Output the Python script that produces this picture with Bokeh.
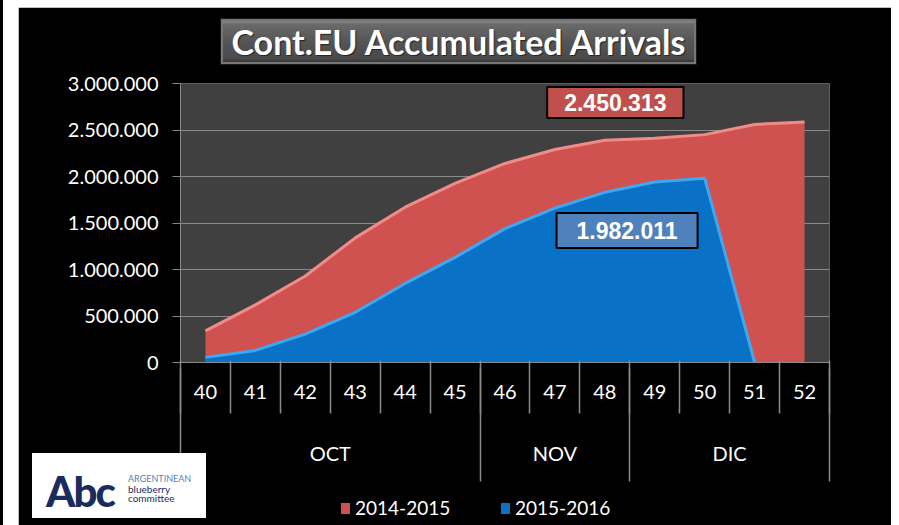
from bokeh.plotting import figure
from bokeh.models import (Range1d, FixedTicker, Label, ColumnDataSource, Spacer, LinearAxis, Div)
from bokeh.layouts import row, column
from bokeh.embed import file_html
from bokeh.resources import INLINE

# ---------------- data ----------------
weeks = ["40", "41", "42", "43", "44", "45", "46", "47", "48", "49", "50", "51", "52"]
months = ["OCT", "OCT", "OCT", "OCT", "OCT", "OCT", "NOV", "NOV", "NOV", "DIC", "DIC", "DIC", "DIC"]
arrivals_2014_2015 = [340000, 620000, 930000, 1340000, 1670000, 1925000, 2140000,
                      2290000, 2390000, 2410000, 2450313, 2560000, 2585000]
arrivals_2015_2016 = [55000, 130000, 305000, 540000, 850000, 1130000, 1440000,
                      1660000, 1830000, 1940000, 1982011, 0, float("nan")]
series_names = ["2014-2015", "2015-2016"]
y_ticks = [0, 500000, 1000000, 1500000, 2000000, 2500000, 3000000]
y_tick_labels = ["0", "500.000", "1.000.000", "1.500.000", "2.000.000", "2.500.000", "3.000.000"]
title_text = "Cont.EU Accumulated Arrivals"
callout_2014 = "2.450.313"
callout_2015 = "1.982.011"

# ---------------- styling ----------------
RED = "#D05250"
BLUE = "#0A72C6"
GRID = "#8a8a8a"
FONT = "Lato"
Y_MAX = 3000000
LABEL_H = 19          # height Bokeh gives a 20px label line
S1 = 22
E1 = S1 + LABEL_H     # extent of the week-label axis
WEEK_OUT = 53 - E1
S2 = 27
E2 = WEEK_OUT + S2 + LABEL_H
MONTH_OUT = 113 - E1 - E2

n = len(weeks)
week_pos = [i + 0.5 for i in range(n)]          # category centres
week_bounds = list(range(n + 1))                 # category edges
month_bounds = [0] + [i for i in range(1, n) if months[i] != months[i - 1]] + [n]
month_centers = [(month_bounds[k] + month_bounds[k + 1]) / 2 for k in range(len(month_bounds) - 1)]
month_names = [months[month_bounds[k]] for k in range(len(month_bounds) - 1)]

src = ColumnDataSource(dict(x=week_pos, red=arrivals_2014_2015, blue=arrivals_2015_2016))

p = figure(x_range=Range1d(0, n), y_range=Range1d(0, Y_MAX),
           width=873, height=518, output_backend="svg", toolbar_location=None,
           min_border_left=162, min_border_right=62, min_border_top=76, min_border_bottom=163,
           background_fill_color="#404040", border_fill_color="black",
           outline_line_color=None)

r_red = p.varea(x="x", y1=0, y2="red", source=src, fill_color=RED)
p.line(x="x", y="red", source=src, line_color="#F08C88", line_width=3)
r_blue = p.varea(x="x", y1=0, y2="blue", source=src, fill_color=BLUE)
p.line(x="x", y="blue", source=src, line_color="#3DA8F2", line_width=3)

# y axis
yax = p.yaxis[0]
yax.ticker = FixedTicker(ticks=y_ticks)
yax.major_label_overrides = {t: l for t, l in zip(y_ticks, y_tick_labels)}
yax.major_label_text_color = "white"
yax.major_label_text_font = FONT
yax.major_label_text_font_size = "20px"
yax.axis_line_color = GRID
yax.major_tick_line_color = GRID
yax.major_tick_out = 8
yax.major_tick_in = 0
yax.minor_tick_line_color = None
yax.major_label_standoff = 14
p.ygrid.grid_line_color = GRID
p.xgrid.grid_line_color = None

# axis 1: week labels
xax = p.xaxis[0]
xax.ticker = FixedTicker(ticks=week_pos, minor_ticks=[])
xax.major_label_overrides = {c: w for c, w in zip(week_pos, weeks)}
xax.major_label_text_color = "white"
xax.major_label_text_font = FONT
xax.major_label_text_font_size = "20px"
xax.axis_line_color = GRID
xax.major_tick_line_color = None
xax.major_tick_out = 0
xax.major_tick_in = 0
xax.minor_tick_line_color = None
xax.minor_tick_out = 0
xax.major_label_standoff = S1

# axis 2: month labels + week dividers (minor ticks reaching back up to the plot)
max_ = LinearAxis(ticker=FixedTicker(ticks=month_centers, minor_ticks=week_bounds),
                  major_label_overrides={c: m for c, m in zip(month_centers, month_names)},
                  axis_line_color=None, major_tick_line_color=None,
                  major_tick_out=0, major_tick_in=0,
                  minor_tick_line_color=GRID, minor_tick_line_width=1.5,
                  minor_tick_out=WEEK_OUT, minor_tick_in=E1,
                  major_label_text_color="white", major_label_text_font=FONT,
                  major_label_text_font_size="20px", major_label_standoff=S2)
p.add_layout(max_, "below")

# axis 3: month dividers, no labels
dax = LinearAxis(ticker=FixedTicker(ticks=month_bounds, minor_ticks=[]),
                 major_label_overrides={b: "" for b in month_bounds},
                 major_label_text_font_size="1px", major_label_text_alpha=0,
                 axis_line_color=None, major_tick_line_color=GRID, major_tick_line_width=1.5,
                 major_tick_in=E1 + E2, major_tick_out=MONTH_OUT,
                 minor_tick_line_color=None, major_label_standoff=2)
p.add_layout(dax, "below")

# callouts
px_per_unit = 279 / Y_MAX
p.add_layout(Label(x=8.71, y=(362 - 102) / px_per_unit, text=callout_2014,
                   text_align="center", text_baseline="middle",
                   text_color="white", text_font="Liberation Sans", text_font_style="bold",
                   text_font_size="23px", background_fill_color="#C0504D",
                   border_line_color="black", border_line_width=2, padding=(17, 7)))
p.add_layout(Label(x=8.945, y=(362 - 230) / px_per_unit, text=callout_2015,
                   text_align="center", text_baseline="middle",
                   text_color="white", text_font="Liberation Sans", text_font_style="bold",
                   text_font_size="23px", background_fill_color="#4F81BD",
                   border_line_color="black", border_line_width=2, padding=(20, 9)))

# title box (HTML overlay)
title_html = (
    '<div style="width:477px;height:47px;box-sizing:border-box;border:1px solid #1a1a1a;'
    'background:linear-gradient(#9a9a9a 0%, #6a6a6a 12%, #555555 50%, #4a4a4a 88%, #2a2a2a 100%);'
    'box-shadow:inset 0 0 0 2px #777777;color:white;font-family:Lato,sans-serif;font-weight:bold;'
    'font-size:34px;line-height:45px;text-align:center;white-space:nowrap;'
    'text-shadow:1px 1px 1px #222;">' + title_text + '</div>')
title_div = Div(text=title_html, width=477, height=47, margin=(-507, 0, 0, 202))

# logo (HTML overlay in the lower-left corner)
logo_html = (
    '<div style="width:174px;height:65px;background:white;position:relative;'
    'font-family:Lato,sans-serif;">'
    '<span style="position:absolute;left:14px;top:8px;font-size:42px;font-weight:900;'
    'color:#1c2b5e;letter-spacing:-2px;">Abc</span>'
    '<span style="position:absolute;left:96px;top:21px;font-size:9px;color:#5b80b5;'
    'line-height:9px;">ARGENTINEAN</span>'
    '<span style="position:absolute;left:96px;top:31px;font-size:10px;color:#1c2b5e;'
    'line-height:10px;">blueberry</span>'
    '<span style="position:absolute;left:96px;top:40px;font-size:10px;color:#1c2b5e;'
    'line-height:10px;">committee</span>'
    '</div>')
logo = Div(text=logo_html, width=174, height=65, margin=(388, 0, 0, 14))

# legend (HTML overlay below the axis)
legend_colors = [RED, BLUE]
legend_lefts = [0, 160]
legend_html = '<div style="position:relative;width:280px;height:20px;font-family:Lato,sans-serif;">'
for name, col, left in zip(series_names, legend_colors, legend_lefts):
    legend_html += ('<span style="position:absolute;left:%dpx;top:4px;width:9px;height:11px;'
                    'background:%s;"></span>' % (left, col))
    legend_html += ('<span style="position:absolute;left:%dpx;top:-2px;font-size:19px;color:white;'
                    'line-height:22px;">%s</span>' % (left + 14, name))
legend_html += '</div>'
legend_div = Div(text=legend_html, width=280, height=20, margin=(-19, 0, 0, 323))

strip = Spacer(width=3, height=525, styles={"background-color": "black"})
layout = row(strip, Spacer(width=15, height=525),
             column(Spacer(width=873, height=7), p, title_div, logo, legend_div))
open("out.html", "w").write(file_html(layout, INLINE))
